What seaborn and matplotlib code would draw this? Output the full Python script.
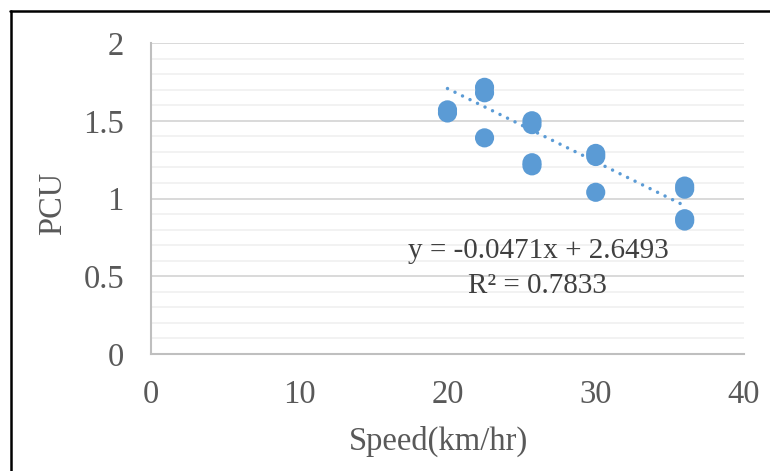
import matplotlib
matplotlib.use("Agg")
import matplotlib.pyplot as plt
import seaborn as sns
import numpy as np
import pandas as pd
from matplotlib.lines import Line2D
from matplotlib.ticker import MultipleLocator

# Observed PCU values at each speed
speed = [20, 20, 22.5, 22.5, 22.5, 25.7, 25.7, 25.7, 25.7, 30, 30, 30, 36, 36, 36, 36]
pcu = [1.57, 1.55, 1.715, 1.68, 1.39, 1.50, 1.475, 1.23, 1.21, 1.29, 1.27, 1.04, 1.08, 1.06, 0.87, 0.855]

# Linear trend (as reported)
slope = -0.0471
intercept = 2.6493
r_squared = 0.7833

x_ticks = [0, 10, 20, 30, 40]
y_ticks = [0, 0.5, 1, 1.5, 2]

df = pd.DataFrame({"Speed": speed, "PCU": pcu})

sns.set_style("white")
plt.rcParams["font.family"] = ["Liberation Serif", "DejaVu Serif"]

blue = "#5B9BD5"
grey_text = "#595959"

fig = plt.figure(figsize=(7.7, 4.71), dpi=100)
ax = fig.add_axes([0.1961, 0.2484, 0.9662 - 0.1961, 0.9087 - 0.2484])

# Gridlines: major and minor horizontal
ax.set_xlim(0, 40)
ax.set_ylim(0, 2)
ax.set_xticks(x_ticks)
ax.set_yticks(y_ticks)
ax.set_xticklabels([str(t) for t in x_ticks])
ax.set_yticklabels([f"{t:g}" for t in y_ticks])
ax.yaxis.set_minor_locator(MultipleLocator(0.1))
ax.grid(False)
ax.yaxis.grid(True, which="major", color="#D9D9D9", linewidth=1.4, zorder=0)
ax.yaxis.grid(True, which="minor", color="#F2F2F2", linewidth=1.4, zorder=0)
ax.set_axisbelow(True)

# Trend line over the observed speed range
xs = np.array([min(speed), max(speed)])
ax.plot(xs, slope * xs + intercept, color=blue, linewidth=2.5,
        linestyle=(0, (0.01, 2.4)), dash_capstyle="round", zorder=2)

sns.scatterplot(data=df, x="Speed", y="PCU", ax=ax, color=blue, s=190,
                edgecolor="none", linewidth=0, zorder=3)

# Axes styling
for side in ["top", "right"]:
    ax.spines[side].set_visible(False)
for side in ["left", "bottom"]:
    ax.spines[side].set_color("#BFBFBF")
    ax.spines[side].set_linewidth(1.5)
ax.tick_params(axis="both", which="major", direction="out", length=6.5,
               width=1.5, color="#BFBFBF", labelsize=23.5, labelcolor=grey_text)
ax.tick_params(axis="y", which="major", pad=13)
ax.tick_params(axis="x", which="major", pad=12)
ax.tick_params(axis="y", which="minor", length=0)

ax.set_xlabel("Speed(km/hr)", fontsize=23.5, color=grey_text)
ax.set_ylabel("PCU", fontsize=23.5, color=grey_text)
ax.xaxis.set_label_coords(0.485, -0.23)
ax.yaxis.set_label_coords(-0.14, 0.485)

eq = f"y = {slope:.4f}x + {intercept:.4f}"
ax.text(26.1, 0.66, eq, fontsize=21, color="#404040", ha="center", va="center")
ax.text(26.1, 0.44, f"R² = {r_squared:.4f}", fontsize=21, color="#404040",
        ha="center", va="center")

# Frame around the figure (top and left edges)
fig.add_artist(Line2D([10 / 770, 1.0], [1 - 10.5 / 471, 1 - 10.5 / 471],
                      transform=fig.transFigure, color="black", linewidth=1.8))
fig.add_artist(Line2D([10.5 / 770, 10.5 / 770], [0, 1 - 10.5 / 471],
                      transform=fig.transFigure, color="black", linewidth=1.8))

fig.savefig("out.png", dpi=100)
